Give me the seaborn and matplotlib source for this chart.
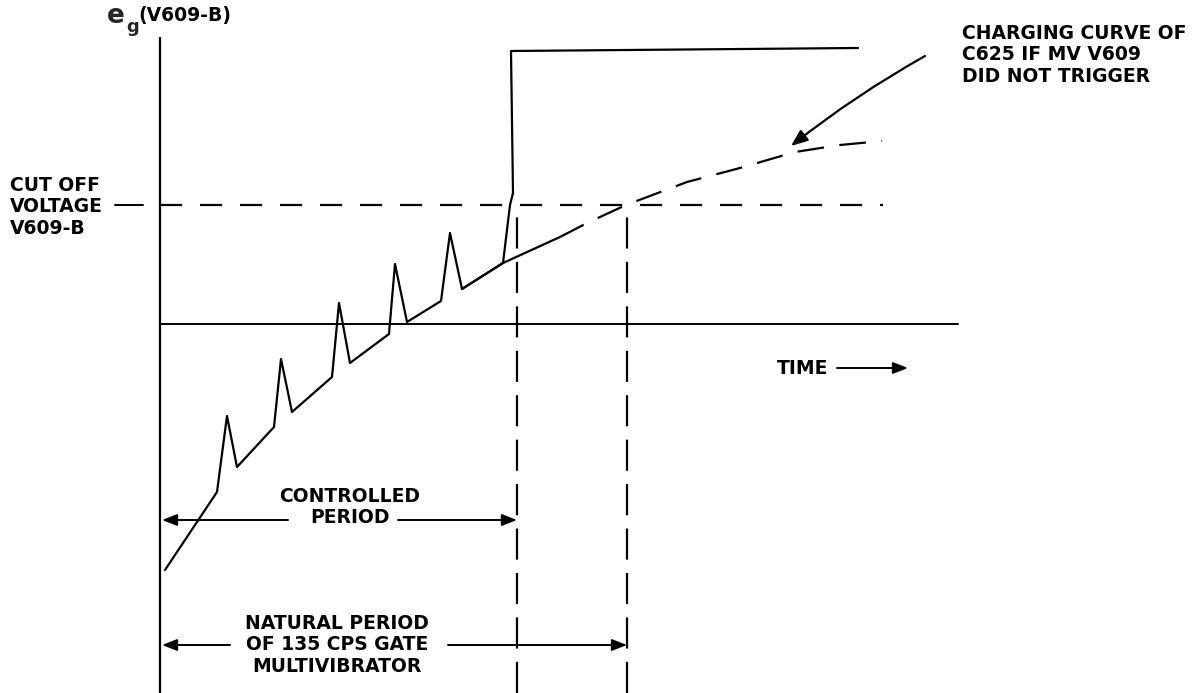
import matplotlib
matplotlib.use("Agg")
import matplotlib.pyplot as plt
import seaborn as sns

# grid voltage of V609-B vs time (arbitrary units)
saw_t = [165, 217, 227, 237, 274, 281, 292, 332, 339, 350, 389, 395, 407, 441,
         450, 462, 503, 510, 513, 511, 858]
saw_v = [123, 201, 277, 226, 266, 334, 281, 316, 390, 330, 359, 429, 371, 392,
         460, 404, 430, 488, 500, 642, 645]

# charging curve of C625 if MV V609 did not trigger
charge_solid_t = [462, 503, 560]
charge_solid_v = [404, 430, 456]
charge_dash_t = [560, 587, 626, 687, 740, 795, 840, 882]
charge_dash_v = [456, 470, 488, 511, 525, 541, 548, 552]

cutoff_v = 488
base_v = 369
axis_t = 160
controlled_end = 517
natural_end = 627

sns.set_style("white")
plt.rcParams['font.family'] = ['DejaVu Sans']

fig = plt.figure(figsize=(12.02, 6.93), dpi=100)
ax = fig.add_axes([0, 0, 1, 1])
ax.set_xlim(0, 1202)
ax.set_ylim(0, 693)
ax.axis("off")

k = dict(color="black", lw=1.6)

# axes of the sketch
ax.plot([axis_t, axis_t], [0, 655], **k)
ax.plot([axis_t, 958], [base_v, base_v], color="black", lw=1.4)

# sawtooth + trigger
sns.lineplot(x=saw_t, y=saw_v, sort=False, estimator=None, ax=ax, **k)
sns.lineplot(x=charge_solid_t, y=charge_solid_v, sort=False, estimator=None, ax=ax, **k)
sns.lineplot(x=charge_dash_t, y=charge_dash_v, sort=False, estimator=None, ax=ax,
             color="black", lw=1.6, linestyle=(0, (12, 7)))

# cut off level
ax.plot([axis_t, 883], [cutoff_v, cutoff_v], color="black", lw=1.6, linestyle=(0, (10, 8)))
ax.plot([115, 143], [cutoff_v, cutoff_v], color="black", lw=1.4)

# period markers
for t in (controlled_end, natural_end):
    ax.plot([t, t], [0, cutoff_v], color="black", lw=1.6, linestyle=(0, (14, 6)))

fs = 13.5
tk = dict(fontsize=fs, fontweight="bold", color="black")
ah = dict(arrowstyle="-|>,head_length=0.9,head_width=0.35", color="black", lw=1.4,
          shrinkA=0, shrinkB=0)

ax.text(350, 693 - 507, "CONTROLLED\nPERIOD", ha="center", va="center",
        linespacing=1.15, **tk)
ax.annotate("", xy=(axis_t + 2, 173), xytext=(288, 173), arrowprops=ah)
ax.annotate("", xy=(controlled_end, 173), xytext=(398, 173), arrowprops=ah)

ax.text(337, 693 - 645, "NATURAL PERIOD\nOF 135 CPS GATE\nMULTIVIBRATOR", ha="center",
        va="center", linespacing=1.15, **tk)
ax.annotate("", xy=(axis_t + 2, 48), xytext=(230, 48), arrowprops=ah)
ax.annotate("", xy=(natural_end, 48), xytext=(448, 48), arrowprops=ah)

ax.text(10, 693 - 207, "CUT OFF\nVOLTAGE\nV609-B", ha="left", va="center",
        linespacing=1.15, **tk)

ax.text(962, 693 - 55, "CHARGING CURVE OF\nC625 IF MV V609\nDID NOT TRIGGER",
        ha="left", va="center", linespacing=1.15, **tk)
ax.annotate("", xy=(791, 693 - 146), xytext=(925, 693 - 56),
            arrowprops=dict(arrowstyle="-|>,head_length=1.0,head_width=0.4",
                            color="black", lw=1.6, shrinkA=0, shrinkB=0,
                            connectionstyle="arc3,rad=0.04"))

ax.text(777, 693 - 368, "TIME", ha="left", va="center", **tk)
ax.annotate("", xy=(908, 693 - 368), xytext=(837, 693 - 368), arrowprops=ah)

ax.text(107, 693 - 16, "e", ha="left", va="center", fontsize=19, fontweight="bold")
ax.text(126, 693 - 27, "g", ha="left", va="center", fontsize=13, fontweight="bold")
ax.text(138, 693 - 15, "(V609-B)", ha="left", va="center", **tk)

fig.savefig("out.png", dpi=100, facecolor="white")
